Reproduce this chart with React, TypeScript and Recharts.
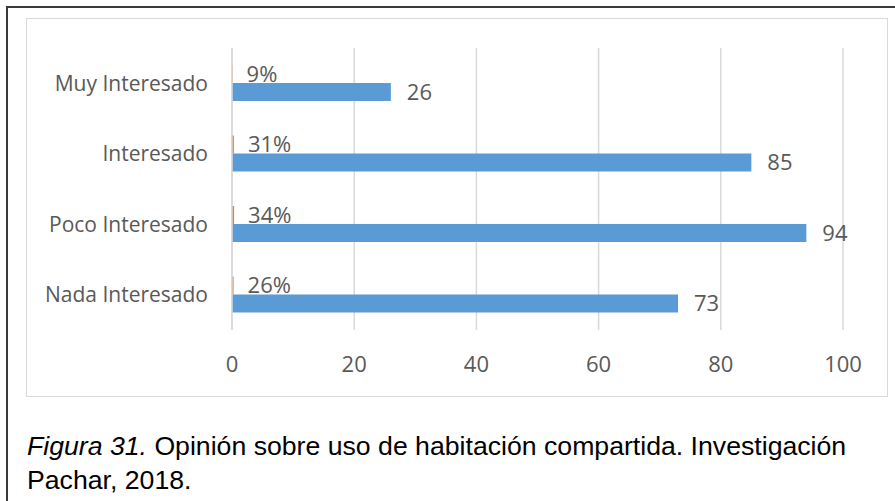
import { BarChart, Bar, XAxis, YAxis, CartesianGrid, LabelList } from "recharts";

const categories = ["Muy Interesado", "Interesado", "Poco Interesado", "Nada Interesado"];
const counts = [26, 85, 94, 73];
const shares = [0.09, 0.31, 0.34, 0.26];
const xTicks = [0, 20, 40, 60, 80, 100];

const data = categories.map((name, i) => ({ name, count: counts[i], share: shares[i] }));

const textGray = "#595959";
const gridGray = "#d9d9d9";

export default function App() {
  return (
    <div
      style={{
        position: "fixed",
        left: 0,
        top: 0,
        width: 895,
        height: 501,
        overflow: "hidden",
        background: "#fff",
      }}
    >
      {/* outer figure frame */}
      <div
        style={{
          position: "absolute",
          left: 6,
          top: 6,
          width: 1000,
          height: 1000,
          border: "2px solid #3a3a3a",
        }}
      />
      {/* chart box */}
      <div
        style={{
          position: "absolute",
          left: 26,
          top: 18,
          width: 862,
          height: 379,
          border: `1px solid ${gridGray}`,
          boxSizing: "border-box",
          background: "#fff",
        }}
      >
        <BarChart
          width={860}
          height={377}
          data={data}
          layout="vertical"
          margin={{ top: 29, right: 44, bottom: 36, left: 0 }}
          barGap={0}
          barSize={18}
        >
          <CartesianGrid horizontal={false} stroke={gridGray} strokeWidth={1.5} />
          <XAxis
            type="number"
            domain={[0, 100]}
            ticks={xTicks}
            axisLine={false}
            tickLine={false}
            tickMargin={20}
            height={30}
            tick={{ fill: textGray, fontSize: 22, fontFamily: "Open Sans" }}
          />
          <YAxis
            type="category"
            dataKey="name"
            width={205}
            axisLine={{ stroke: gridGray, strokeWidth: 1.5 }}
            tickLine={false}
            tickMargin={18}
            tick={{ fill: textGray, fontSize: 21, fontFamily: "Open Sans" }}
          />
          <Bar dataKey="share" fill="#ed7d31" isAnimationActive={false}>
            <LabelList
              dataKey="share"
              position="right"
              offset={14}
              formatter={(v: number) => `${Math.round(v * 100)}%`}
              style={{ fill: textGray, fontSize: 22, fontFamily: "Open Sans" }}
            />
          </Bar>
          <Bar dataKey="count" fill="#5b9bd5" isAnimationActive={false}>
            <LabelList
              dataKey="count"
              position="right"
              offset={16}
              style={{ fill: textGray, fontSize: 22, fontFamily: "Open Sans" }}
            />
          </Bar>
        </BarChart>
      </div>
      {/* caption */}
      <div
        style={{
          position: "absolute",
          left: 27,
          top: 429,
          width: 860,
          whiteSpace: "nowrap",
          fontFamily: "'Liberation Sans', Arial, sans-serif",
          fontSize: 25.5,
          lineHeight: "34px",
          color: "#000",
          transform: "scaleX(1.045)",
          transformOrigin: "left top",
        }}
      >
        <i>Figura 31.</i> Opinión sobre uso de habitación compartida. Investigación
        <br />
        Pachar, 2018.
      </div>
    </div>
  );
}
